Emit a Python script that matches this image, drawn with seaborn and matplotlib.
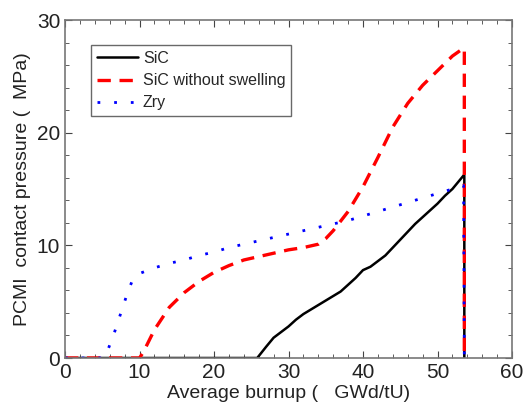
import numpy as np
import pandas as pd
import seaborn as sns
import matplotlib.pyplot as plt
from matplotlib.ticker import MultipleLocator

# burnup (GWd/tU) vs PCMI contact pressure (MPa)
sic_x = [0, 25.8, 27, 28, 29, 30, 31, 32, 33, 34, 35, 36, 37, 38, 39, 40, 41, 42, 43, 44,
         45, 46, 47, 48, 49, 50, 51, 52, 53.5, 53.6, 53.6]
sic_y = [0, 0, 1.0, 1.8, 2.3, 2.8, 3.4, 3.9, 4.3, 4.7, 5.1, 5.5, 5.9, 6.5, 7.1, 7.8, 8.1, 8.6, 9.1, 9.8,
         10.5, 11.2, 11.9, 12.5, 13.1, 13.7, 14.4, 15.0, 16.2, 16.2, 0]

nosw_x = [0, 10, 10.5, 12, 14, 16, 18, 20, 22, 24, 26, 28, 30, 32, 34, 35, 36, 38, 40, 42,
          44, 46, 48, 50, 52, 53.5, 53.6, 53.6]
nosw_y = [0, 0, 0.5, 2.5, 4.5, 5.8, 6.8, 7.6, 8.2, 8.7, 9.0, 9.3, 9.6, 9.8, 10.1, 10.6, 11.3, 13.0,
          15.2, 17.8, 20.5, 22.6, 24.2, 25.5, 26.8, 27.5, 27.5, 0]

zry_x = [0, 5.2, 5.8, 6.5, 7, 7.5, 8, 8.5, 9, 10, 12, 14, 16, 18, 20, 22, 24, 26, 28, 30,
         32, 34, 36, 38, 40, 42, 44, 46, 48, 50, 52, 53.5, 53.6]
zry_y = [0, 0, 0.8, 2.0, 3.0, 4.0, 5.0, 6.0, 6.8, 7.5, 8.0, 8.4, 8.7, 9.1, 9.4, 9.8, 10.1, 10.4,
         10.7, 11.0, 11.3, 11.6, 11.9, 12.2, 12.6, 13.0, 13.4, 13.8, 14.2, 14.6, 15.0, 15.3, 0]

sns.set_style("ticks")
plt.rcParams['font.family'] = ['Liberation Sans', 'DejaVu Sans']

fig = plt.figure(figsize=(5.28, 4.11), dpi=100)
ax = fig.add_axes([65 / 528, 1 - 358 / 411, 447 / 528, 338 / 411])

sns.lineplot(x=sic_x, y=sic_y, sort=False, estimator=None, color="black", lw=1.8,
             label="SiC", ax=ax)
sns.lineplot(x=nosw_x, y=nosw_y, sort=False, estimator=None, color="red", lw=2.4,
             linestyle=(0, (4, 2.6)), label="SiC without swelling", ax=ax)
sns.lineplot(x=zry_x, y=zry_y, sort=False, estimator=None, color="blue", lw=2.0,
             linestyle=(0, (1, 5)), dash_capstyle="butt", label="Zry", ax=ax)

ax.set_xlim(0, 60)
ax.set_ylim(0, 30)
ax.xaxis.set_major_locator(MultipleLocator(10))
ax.xaxis.set_minor_locator(MultipleLocator(2))
ax.yaxis.set_major_locator(MultipleLocator(10))
ax.yaxis.set_minor_locator(MultipleLocator(2))
ax.tick_params(which="both", direction="in", top=True, right=True, colors="#444444",
               labelcolor="#222222", labelsize=15)
ax.tick_params(which="major", length=5)
ax.tick_params(which="minor", length=3)
for s in ax.spines.values():
    s.set_color("#777777")
    s.set_linewidth(1.2)

ax.set_xlabel("Average burnup (   GWd/tU)", fontsize=14, color="#222222", labelpad=2)
ax.set_ylabel("PCMI  contact pressure (  MPa)", fontsize=14, color="#222222", labelpad=4)

leg = ax.legend(loc="upper left", bbox_to_anchor=(0.058, 0.925), frameon=True, fancybox=False,
                fontsize=11.5, handlelength=2.6, handletextpad=0.3, borderpad=0.35,
                labelspacing=0.45, borderaxespad=0)
leg.get_frame().set_edgecolor("#444444")
leg.get_frame().set_linewidth(1.0)

fig.savefig("out.png", dpi=100)
